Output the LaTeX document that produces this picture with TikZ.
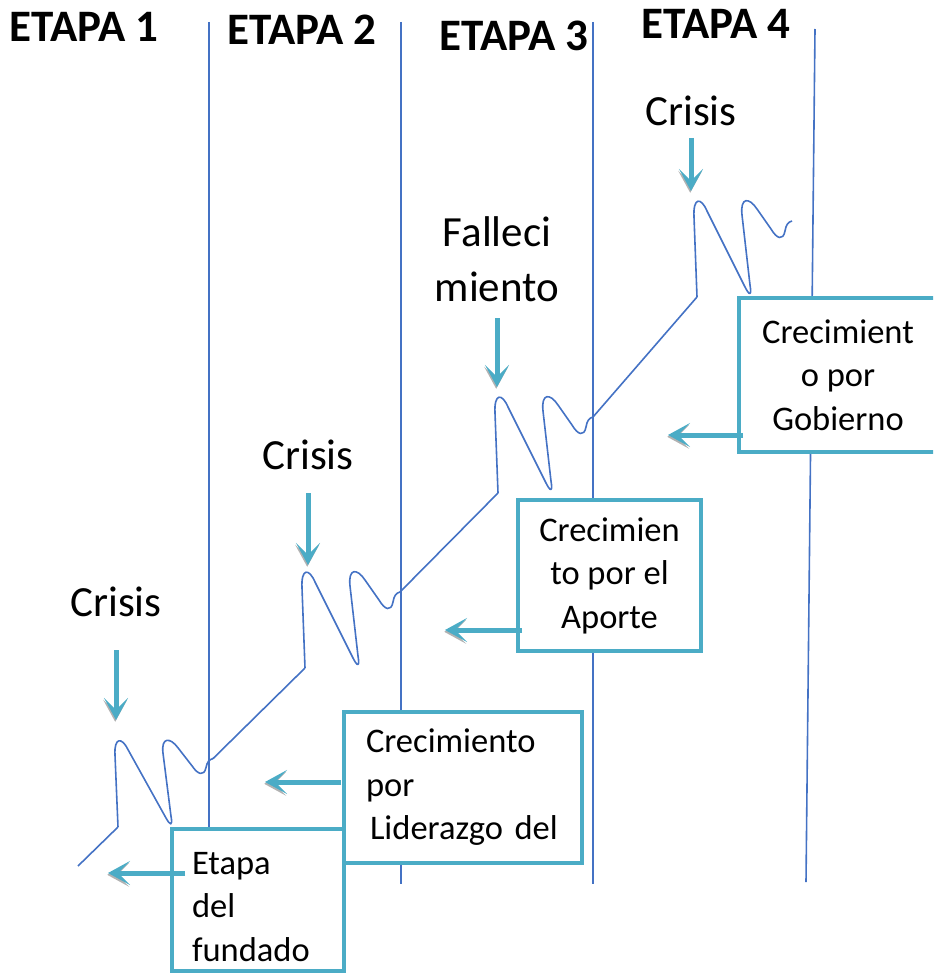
\documentclass[tikz,border=0pt]{standalone}
\usepackage{fontspec}
\setmainfont{Carlito}
\usetikzlibrary{arrows.meta}
\definecolor{myaqua}{RGB}{75,172,198}
\definecolor{myblue}{RGB}{68,114,196}
\tikzset{
  wave/.pic={
    \coordinate (-in) at (0,0);
    \coordinate (-out) at (95,-76);
    \draw[growth] (0,0) -- (-3,-80) .. controls (-4,-100) and (4,-100) .. (10,-86) -- (48,-10) .. controls (52,-2) and (55,0) .. (53,-12) -- (45,-82) .. controls (43,-100) and (52,-100) .. (60,-88) -- (74,-68) .. controls (80,-58) and (86,-56) .. (88,-66) .. controls (89,-72) and (91,-75) .. (95,-76);
  }
}

\begin{document}
\begin{tikzpicture}[x=0.5pt,y=-0.5pt,
    stageline/.style={myblue,line width=0.8pt},
    growth/.style={myblue,line width=0.8pt,line join=round},
    stagehead/.style={font=\bfseries\fontsize{22.5}{27}\selectfont},
    crisislabel/.style={font=\fontsize{21.5}{27.5}\selectfont},
    stagebox/.style={draw=myaqua,line width=2pt,fill=white,font=\fontsize{17.25}{21.75}\selectfont},
    bigarrow/.style={myaqua,line width=2.5pt,-{Stealth[length=11pt,width=12pt,inset=6pt]},
      preaction={draw=gray!60,transform canvas={shift={(-0.4pt,-0.9pt)}}}}]
            \clip (0,0) rectangle (933,974);
            % stage borders
            \draw[stageline] (209,22) -- (209,829);
            \draw[stageline] (401,22) -- (401,884);
            \draw[stageline] (593,22) -- (593,884);
            \draw[stageline] (815,29) -- (806,882);
            \node[stagehead] (e1) at (84,27) {ETAPA 1};
            \node[stagehead] (e2) at (302,30) {ETAPA 2};
            \node[stagehead] (e3) at (514,36) {ETAPA 3};
            \node[stagehead] (e4) at (716,24) {ETAPA 4};
            % growth curve
            \coordinate (start) at (78,866);
            \pic[yscale=0.9] (w1) at (118,827) {wave};
            \pic (w2) at (305,668) {wave};
            \pic (w3) at (498,493) {wave};
            \pic (w4) at (697,297) {wave};
            \draw[growth] (start) -- (w1-in);
            \draw[growth] (w1-out) -- (w2-in);
            \draw[growth] (w2-out) -- (w3-in);
            \draw[growth] (w3-out) -- (w4-in);
            % crises
            \node[crisislabel] (c1) at (116,602) {Crisis};
            \node[crisislabel] (c2) at (308,455) {Crisis};
            \node[crisislabel,align=center] (c3) at (497,259) {Falleci\\miento};
            \node[crisislabel] (c4) at (691,111) {Crisis};
            \draw[bigarrow] (c1) ++(0,48) -- ++(0,70);
            \draw[bigarrow] (c2) ++(0,38) -- ++(0,72);
            \draw[bigarrow] (c3) ++(0,59) -- ++(0,69);
            \draw[bigarrow] (c4) ++(0,27) -- ++(0,53);
            % growth phases
            \node[stagebox,minimum width=86pt,minimum height=71pt,text width=66pt,align=left] (fund) at (258,900) {\rule{0pt}{18pt}Etapa\\del\\fundado};
            \node[stagebox,minimum width=119pt,minimum height=75.5pt,text width=97pt,align=left] (lider) at (463,787.5) {Crecimiento\\por\\\mbox{\hspace{2pt}Liderazgo del}};
            \node[stagebox,minimum width=91.5pt,minimum height=75.5pt,align=center] (aporte) at (609.5,575.5) {Crecimien\\to por el\\Aporte};
            \node[stagebox,minimum width=99pt,minimum height=77pt,align=center] (gob) at (838,375) {Crecimient\\o por\\Gobierno};
            \coordinate (g1) at (108,873);
            \coordinate (g2) at (265,782);
            \coordinate (g3) at (445,630);
            \coordinate (g4) at (668,435);
            \draw[bigarrow] (fund.west) ++(15,-27) -- (g1);
            \draw[bigarrow] (lider.west) ++(-1,-5.5) -- (g2);
            \draw[bigarrow] (aporte.west) ++(6,54.5) -- (g3);
            \draw[bigarrow] (gob.west) ++(6,60) -- (g4);
        \end{tikzpicture}
\end{document}
